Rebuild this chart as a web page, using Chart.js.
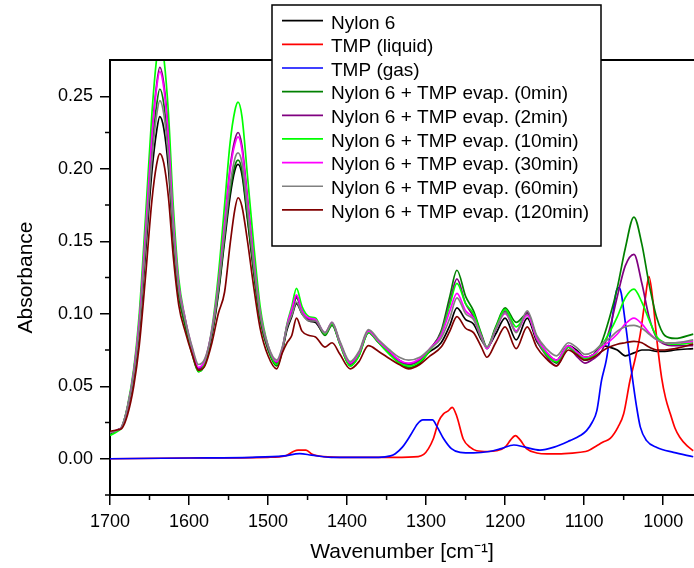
<!DOCTYPE html>
<html>
<head>
<meta charset="utf-8">
<script src="https://cdn.jsdelivr.net/npm/chart.js@4.4.0/dist/chart.umd.min.js"></script>
<style>
  html, body { margin: 0; padding: 0; background: #fff; }
  #wrap { width: 694px; height: 568px; }
</style>
</head>
<body>
<div id="wrap"><canvas id="ftir" width="694" height="568"></canvas></div>
<script>
// wavenumber grid shared by the nylon spectra (cm-1)
const wavenumber = [
  1700, 1690, 1685, 1678, 1670, 1663, 1655, 1647, 1641, 1637,
  1632, 1626, 1620, 1613, 1605, 1596, 1588, 1580, 1571, 1563,
  1555, 1548, 1542, 1538, 1533, 1526, 1518, 1510, 1500, 1489,
  1482, 1476, 1470, 1464, 1457, 1448, 1440, 1428, 1419, 1409,
  1396, 1385, 1373, 1360, 1346, 1334, 1322, 1308, 1295, 1281,
  1270, 1261, 1250, 1240, 1230, 1223, 1212, 1200, 1186, 1172,
  1160, 1148, 1135, 1120, 1110, 1099, 1088, 1078, 1068, 1058,
  1048, 1037, 1027, 1018, 1008, 998, 985, 962
];

const nylon6 = [
  .018, .020, .022, .034, .056, .087, .142, .198, .226, .236,
  .228, .200, .152, .113, .093, .074, .062, .066, .085, .113,
  .150, .181, .199, .203, .196, .165, .128, .097, .076, .066,
  .075, .089, .098, .107, .100, .095, .094, .086, .093, .080,
  .066, .073, .088, .081, .073, .068, .065, .068, .074, .080,
  .092, .104, .096, .093, .082, .077, .086, .097, .082, .097,
  .081, .073, .068, .078, .075, .070, .072, .078, .077, .075,
  .071, .073, .075, .075, .074, .074, .075, .076
];
const evap0 = [
  .017, .020, .022, .035, .058, .092, .152, .213, .244, .255,
  .245, .212, .157, .114, .092, .072, .060, .065, .086, .115,
  .153, .185, .202, .206, .199, .167, .129, .096, .075, .064,
  .074, .091, .101, .111, .102, .096, .095, .085, .092, .079,
  .064, .071, .087, .080, .072, .066, .063, .066, .075, .088,
  .112, .130, .112, .102, .086, .077, .091, .104, .094, .100,
  .084, .073, .066, .077, .073, .068, .071, .080, .097, .118,
  .145, .1667, .148, .121, .097, .085, .083, .086
];
const evap2 = [
  .018, .020, .022, .035, .060, .095, .158, .224, .258, .270,
  .259, .224, .166, .120, .096, .075, .062, .067, .088, .120,
  .163, .201, .220, .225, .216, .180, .138, .101, .077, .066,
  .076, .092, .102, .112, .102, .096, .095, .086, .093, .080,
  .065, .072, .087, .080, .073, .067, .065, .068, .076, .087,
  .108, .124, .107, .098, .085, .076, .089, .102, .088, .101,
  .082, .071, .064, .077, .071, .066, .069, .074, .089, .112,
  .133, .141, .121, .098, .083, .079, .078, .078
];
const evap10 = [
  .016, .019, .022, .036, .062, .100, .167, .238, .276, .290,
  .277, .238, .175, .124, .097, .074, .060, .066, .090, .126,
  .175, .218, .240, .246, .236, .195, .147, .105, .078, .065,
  .075, .093, .105, .1175, .105, .098, .097, .086, .093, .079,
  .064, .071, .087, .080, .072, .066, .064, .067, .075, .086,
  .106, .121, .107, .100, .085, .076, .090, .103, .091, .099,
  .083, .072, .067, .077, .073, .069, .071, .078, .087, .098,
  .111, .117, .108, .096, .084, .080, .079, .080
];
const evap30 = [
  .018, .020, .022, .035, .060, .095, .157, .222, .256, .267,
  .256, .221, .165, .120, .097, .076, .063, .068, .089, .120,
  .162, .199, .217, .222, .213, .178, .137, .101, .078, .067,
  .076, .092, .103, .113, .102, .097, .096, .087, .094, .080,
  .066, .073, .088, .081, .074, .068, .066, .069, .076, .085,
  .102, .114, .102, .097, .084, .076, .089, .100, .088, .099,
  .083, .074, .068, .078, .074, .070, .072, .077, .081, .086,
  .093, .097, .093, .087, .082, .080, .080, .081
];
const evap60 = [
  .018, .020, .022, .035, .058, .090, .148, .207, .237, .247,
  .238, .208, .158, .117, .096, .077, .065, .069, .088, .117,
  .156, .189, .207, .211, .204, .172, .133, .100, .078, .068,
  .077, .091, .099, .108, .100, .095, .095, .087, .094, .081,
  .067, .074, .089, .082, .075, .070, .068, .070, .076, .083,
  .097, .111, .100, .096, .083, .077, .089, .101, .087, .102,
  .085, .076, .071, .080, .077, .072, .074, .079, .083, .088,
  .091, .092, .090, .086, .082, .080, .080, .082
];
const evap120 = [
  .019, .020, .021, .030, .050, .078, .126, .178, .203, .2105,
  .204, .180, .140, .106, .088, .072, .061, .064, .080, .100,
  .115, .148, .172, .180, .174, .150, .118, .090, .071, .062,
  .073, .080, .085, .097, .088, .085, .084, .077, .080, .072,
  .062, .067, .078, .074, .069, .065, .062, .065, .071, .077,
  .088, .098, .090, .087, .077, .070, .080, .091, .076, .091,
  .077, .069, .064, .075, .072, .068, .070, .074, .077, .079,
  .080, .081, .080, .077, .075, .075, .076, .079
];

// TMP reference spectra on their own grids
const wnLiquid = [
  1700, 1600, 1500, 1478, 1468, 1462, 1452, 1444, 1430, 1400,
  1340, 1310, 1303, 1297, 1291, 1284, 1278, 1272, 1267, 1261,
  1253, 1244, 1236, 1222, 1211, 1200, 1193, 1187, 1181, 1173,
  1160, 1147, 1125, 1105, 1095, 1084, 1076, 1067, 1057, 1050,
  1042, 1035, 1029, 1023, 1018, 1013, 1008, 1002, 997, 991,
  985, 979, 970, 962
];
const tmpLiquid = [
  .000, .0005, .001, .002, .005, .006, .006, .003, .0015, .001,
  .001, .0015, .003, .007, .0136, .026, .031, .033, .0355, .029,
  .0136, .0078, .0055, .005, .0055, .008, .013, .016, .013, .007,
  .004, .0033, .0035, .0045, .0055, .009, .0115, .014, .022, .031,
  .054, .070, .086, .109, .1256, .109, .082, .056, .042, .031,
  .021, .0148, .009, .0055
];
const wnGas = [
  1700, 1600, 1520, 1480, 1460, 1445, 1420, 1360, 1345, 1339,
  1330, 1320, 1311, 1304, 1292, 1286, 1278, 1268, 1257, 1240,
  1220, 1205, 1189, 1175, 1156, 1138, 1118, 1105, 1097, 1090,
  1084, 1078, 1072, 1067, 1063, 1059, 1056, 1053, 1050, 1046,
  1042, 1038, 1034, 1029, 1021, 1008, 987, 962
];
const tmpGas = [
  .000, .0005, .001, .002, .0035, .0025, .001, .001, .002, .0035,
  .008, .016, .024, .0268, .0268, .022, .014, .007, .0044, .004,
  .005, .007, .0095, .008, .006, .008, .0125, .016, .0194, .025,
  .033, .054, .068, .086, .1025, .116, .118, .114, .1025, .086,
  .068, .052, .037, .022, .0125, .0078, .0044, .0014
];

const seriesNames = [
  'Nylon 6', 'TMP (liquid)', 'TMP (gas)',
  'Nylon 6 + TMP evap. (0min)', 'Nylon 6 + TMP evap. (2min)',
  'Nylon 6 + TMP evap. (10min)', 'Nylon 6 + TMP evap. (30min)',
  'Nylon 6 + TMP evap. (60min)', 'Nylon 6 + TMP evap. (120min)'
];
const seriesX = [wavenumber, wnLiquid, wnGas, wavenumber, wavenumber, wavenumber, wavenumber, wavenumber, wavenumber];
const seriesY = [nylon6, tmpLiquid, tmpGas, evap0, evap2, evap10, evap30, evap60, evap120];
const seriesColors = ['#000000', '#ff0000', '#0000ff', '#008000', '#800080', '#00ff00', '#ff00ff', '#808080', '#800000'];

const xTicks = [1000, 1100, 1200, 1300, 1400, 1500, 1600, 1700];
const xMinor = [1050, 1150, 1250, 1350, 1450, 1550, 1650];
const yTicks = [0, 0.05, 0.10, 0.15, 0.20, 0.25];
const yMinor = [-0.025, 0.025, 0.075, 0.125, 0.175, 0.225];

const FONT = "'Liberation Sans', Arial, sans-serif";

// minor ticks + top frame line
const frame = {
  id: 'frame',
  afterDraw(chart) {
    const { ctx, chartArea: a, scales: { x, y } } = chart;
    ctx.save();
    ctx.strokeStyle = '#000';
    ctx.lineWidth = 1.5;
    ctx.beginPath();
    xMinor.forEach(v => {
      const p = x.getPixelForValue(v);
      ctx.moveTo(p, a.bottom); ctx.lineTo(p, a.bottom + 5);
    });
    yMinor.forEach(v => {
      const p = y.getPixelForValue(v);
      ctx.moveTo(a.left, p); ctx.lineTo(a.left - 5, p);
    });
    ctx.stroke();
    ctx.lineWidth = 2;
    ctx.beginPath();
    ctx.moveTo(a.left - 1, a.top); ctx.lineTo(a.right, a.top);
    ctx.stroke();
    ctx.restore();
  }
};

// boxed legend like the Origin one
const boxLegend = {
  id: 'boxLegend',
  afterDraw(chart) {
    const ctx = chart.ctx;
    ctx.save();
    ctx.fillStyle = '#fff';
    ctx.fillRect(272, 5, 329, 241);
    ctx.strokeStyle = '#000';
    ctx.lineWidth = 1.5;
    ctx.strokeRect(272, 5, 329, 241);
    ctx.font = '19px ' + FONT;
    ctx.textBaseline = 'alphabetic';
    chart.data.datasets.forEach((ds, i) => {
      const yy = 21.7 + i * 23.65;
      ctx.strokeStyle = ds.borderColor;
      ctx.lineWidth = 1.7;
      ctx.beginPath();
      ctx.moveTo(282, yy - 1); ctx.lineTo(323, yy - 1);
      ctx.stroke();
      ctx.fillStyle = '#000';
      ctx.fillText(ds.label, 331, yy + 6.8);
    });
    ctx.restore();
  }
};

const datasets = seriesNames.map((name, i) => ({
  label: name,
  data: seriesX[i].map((w, j) => ({ x: w, y: seriesY[i][j] })),
  borderColor: seriesColors[i],
  borderWidth: 1.7,
  pointRadius: 0,
  cubicInterpolationMode: 'monotone',
  fill: false,
  clip: 0,
  order: seriesNames.length - i
}));

new Chart(document.getElementById('ftir'), {
  type: 'line',
  data: { datasets },
  options: {
    responsive: false,
    animation: false,
    layout: { padding: { top: 60, right: 0, left: 0, bottom: 0 } },
    plugins: {
      legend: { display: false },
      tooltip: { enabled: false }
    },
    scales: {
      x: {
        type: 'linear',
        reverse: true,
        min: 961,
        max: 1700,
        afterBuildTicks: s => { s.ticks = xTicks.map(v => ({ value: v })); },
        afterFit: s => { s.height = 73; },
        grid: { drawOnChartArea: false, drawTicks: true, tickLength: 10, color: '#000', lineWidth: 1.5 },
        border: { display: true, color: '#000', width: 2 },
        ticks: {
          color: '#000', autoSkip: false, maxRotation: 0, padding: 6,
          font: { family: FONT, size: 18 },
          callback: v => String(v)
        },
        title: {
          display: true, text: 'Wavenumber [cm⁻¹]', color: '#000',
          font: { family: FONT, size: 21, lineHeight: 1 },
          padding: { top: 0, bottom: 5 }
        }
      },
      y: {
        type: 'linear',
        min: -0.025,
        max: 0.275,
        afterBuildTicks: s => { s.ticks = yTicks.map(v => ({ value: v })); },
        afterFit: s => { s.width = 110; },
        grid: { drawOnChartArea: false, drawTicks: true, tickLength: 10, color: '#000', lineWidth: 1.5 },
        border: { display: true, color: '#000', width: 2 },
        ticks: {
          color: '#000', padding: 7,
          font: { family: FONT, size: 18 },
          callback: v => v.toFixed(2)
        },
        title: {
          display: true, text: 'Absorbance', color: '#000',
          font: { family: FONT, size: 21, lineHeight: 1 },
          padding: { top: 16, bottom: 0 }
        }
      }
    }
  },
  plugins: [frame, boxLegend]
});
</script>
</body>
</html>
